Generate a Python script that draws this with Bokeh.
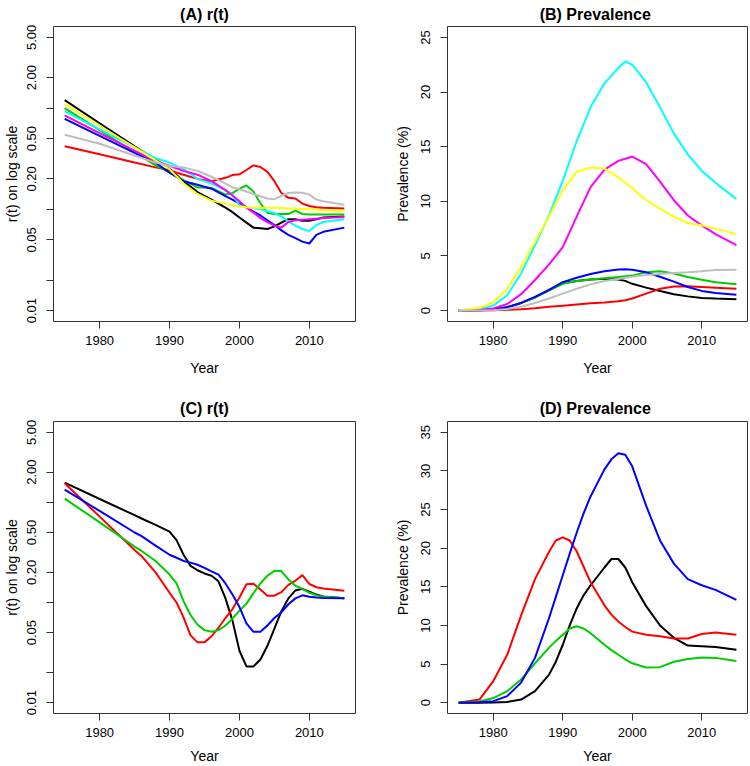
from bokeh.plotting import figure
from bokeh.layouts import column, row
from bokeh.models import Range1d, FixedTicker, CustomJSTickFormatter
from bokeh.embed import file_html
from bokeh.resources import INLINE

# ---------------- data ----------------
x_ticks = [1980, 1990, 2000, 2010]
x_tick_labels = ["1980", "1990", "2000", "2010"]
log_ticks = [0.01, 0.02, 0.05, 0.1, 0.2, 0.5, 1.0, 2.0, 5.0]
log_tick_labels = ["0.01", "", "0.05", "", "0.20", "0.50", "", "2.00", "5.00"]
prev_ticks_b = [0, 5, 10, 15, 20, 25]
prev_ticks_d = [0, 5, 10, 15, 20, 25, 30, 35]

# Panel A: r(t), eight series
years_a = [1975, 1980, 1985, 1988, 1990, 1992, 1994, 1996, 1998, 1999, 2000, 2001,
           2002, 2003, 2004, 2005, 2006, 2007, 2008, 2009, 2010, 2011, 2012, 2015]
a_black = [1.2, 0.71, 0.42, 0.31, 0.252, 0.19, 0.148, 0.125, 0.104, 0.094, 0.083, 0.074,
           0.066, 0.065, 0.064, 0.068, 0.074, 0.080, 0.080, 0.077, 0.077, 0.080, 0.083, 0.085]
a_red = [0.42, 0.35, 0.29, 0.26, 0.243, 0.22, 0.2, 0.19, 0.205, 0.218, 0.222, 0.245,
         0.272, 0.262, 0.235, 0.19, 0.145, 0.13, 0.128, 0.114, 0.108, 0.105, 0.104, 0.102]
a_green = [1.0, 0.606, 0.367, 0.272, 0.232, 0.195, 0.165, 0.163, 0.14, 0.145, 0.16, 0.172,
           0.15, 0.115, 0.092, 0.09, 0.09, 0.09, 0.097, 0.09, 0.089, 0.089, 0.089, 0.089]
a_blue = [0.785, 0.533, 0.362, 0.29, 0.23, 0.19, 0.175, 0.16, 0.135, 0.125, 0.114, 0.105,
          0.095, 0.087, 0.078, 0.07, 0.062, 0.056, 0.052, 0.048, 0.046, 0.056, 0.06, 0.066]
a_cyan = [0.93, 0.617, 0.41, 0.32, 0.29, 0.25, 0.2, 0.18, 0.155, 0.14, 0.11, 0.105,
          0.103, 0.1, 0.096, 0.092, 0.085, 0.076, 0.069, 0.064, 0.061, 0.07, 0.075, 0.08]
a_magenta = [0.85, 0.568, 0.38, 0.30, 0.27, 0.24, 0.22, 0.19, 0.155, 0.137, 0.12, 0.104,
             0.093, 0.082, 0.075, 0.069, 0.066, 0.075, 0.078, 0.079, 0.08, 0.081, 0.082, 0.084]
a_yellow = [1.1, 0.67, 0.41, 0.305, 0.25, 0.18, 0.142, 0.122, 0.114, 0.11, 0.107, 0.105,
            0.104, 0.104, 0.104, 0.104, 0.103, 0.102, 0.102, 0.101, 0.1, 0.099, 0.098, 0.097]
a_gray = [0.546, 0.445, 0.341, 0.29, 0.268, 0.26, 0.24, 0.21, 0.18, 0.165, 0.158, 0.15,
          0.142, 0.135, 0.128, 0.126, 0.136, 0.145, 0.147, 0.146, 0.14, 0.125, 0.12, 0.111]

# Panel B: prevalence (%), eight series
years_b = [1975, 1978, 1980, 1982, 1984, 1986, 1988, 1990, 1992, 1994, 1996,
           1998, 1999, 2000, 2002, 2004, 2006, 2008, 2010, 2012, 2015]
b_black = [0, 0.02, 0.1, 0.3, 0.7, 1.2, 1.85, 2.5, 2.7, 2.85, 2.92,
           2.85, 2.72, 2.45, 2.1, 1.8, 1.5, 1.3, 1.15, 1.1, 1.03]
b_red = [0, 0.0, 0.03, 0.07, 0.13, 0.22, 0.34, 0.45, 0.56, 0.66, 0.74,
         0.85, 0.95, 1.1, 1.55, 2.0, 2.2, 2.22, 2.16, 2.1, 2.0]
b_green = [0, 0.02, 0.1, 0.3, 0.68, 1.2, 1.85, 2.45, 2.7, 2.85, 2.95,
           3.07, 3.15, 3.2, 3.5, 3.6, 3.4, 3.07, 2.83, 2.6, 2.4]
b_blue = [0, 0.02, 0.1, 0.3, 0.7, 1.25, 1.9, 2.6, 3.0, 3.35, 3.6,
          3.75, 3.78, 3.74, 3.5, 3.1, 2.65, 2.16, 1.8, 1.6, 1.45]
b_cyan = [0, 0.1, 0.45, 1.4, 3.4, 6.0, 8.7, 11.9, 15.5, 18.6, 20.8,
          22.2, 22.8, 22.5, 20.9, 18.6, 16.2, 14.3, 12.8, 11.7, 10.2]
b_magenta = [0, 0.05, 0.2, 0.6, 1.5, 2.8, 4.2, 5.8, 8.6, 11.3, 12.9,
             13.7, 13.9, 14.1, 13.4, 11.8, 10.1, 8.7, 7.8, 7.0, 6.0]
b_yellow = [0, 0.25, 0.75, 2.0, 4.0, 6.3, 8.6, 11.0, 12.7, 13.1, 13.0,
            12.2, 11.7, 11.2, 10.1, 9.3, 8.6, 8.0, 7.8, 7.5, 7.0]
b_gray = [0, 0.01, 0.03, 0.15, 0.35, 0.7, 1.1, 1.55, 2.0, 2.4, 2.7,
          2.9, 3.0, 3.1, 3.25, 3.35, 3.45, 3.5, 3.6, 3.72, 3.74]

# Panel C: r(t), four series
years_c = [1975, 1980, 1985, 1986, 1988, 1990, 1991, 1992, 1993, 1994, 1995, 1996,
           1997, 1998, 1999, 2000, 2001, 2002, 2003, 2004, 2005, 2006, 2007, 2008,
           2009, 2010, 2011, 2012, 2015]
c_black = [1.57, 1.08, 0.745, 0.69, 0.595, 0.51, 0.42, 0.3, 0.232, 0.21, 0.195, 0.185,
           0.163, 0.11, 0.066, 0.033, 0.023, 0.023, 0.027, 0.037, 0.055, 0.082, 0.11, 0.132,
           0.137, 0.128, 0.12, 0.115, 0.11]
c_red = [1.55, 0.72, 0.335, 0.29, 0.2, 0.125, 0.1, 0.071, 0.047, 0.04, 0.04, 0.046,
         0.056, 0.07, 0.086, 0.112, 0.152, 0.154, 0.135, 0.117, 0.117, 0.127, 0.15, 0.165,
         0.188, 0.153, 0.142, 0.138, 0.131]
c_green = [1.09, 0.63, 0.362, 0.327, 0.26, 0.19, 0.155, 0.103, 0.075, 0.06, 0.053, 0.051,
           0.053, 0.059, 0.069, 0.083, 0.097, 0.124, 0.155, 0.185, 0.207, 0.206, 0.17, 0.147,
           0.137, 0.125, 0.118, 0.114, 0.11]
c_blue = [1.34, 0.82, 0.5, 0.46, 0.37, 0.30, 0.28, 0.26, 0.25, 0.238, 0.222, 0.205,
          0.19, 0.155, 0.12, 0.09, 0.062, 0.051, 0.051, 0.059, 0.07, 0.08, 0.096, 0.11,
          0.118, 0.114, 0.112, 0.111, 0.11]

# Panel D: prevalence (%), four series
years_d = [1975, 1978, 1980, 1982, 1984, 1986, 1988, 1989, 1990, 1991, 1992, 1993,
           1994, 1996, 1997, 1998, 1999, 2000, 2002, 2004, 2006, 2008, 2010, 2012, 2015]
d_black = [0, 0, 0.02, 0.1, 0.4, 1.5, 3.6, 5.3, 7.5, 10.0, 12.2, 13.9,
           15.2, 17.5, 18.6, 18.6, 17.5, 15.6, 12.5, 10.0, 8.4, 7.4, 7.3, 7.2, 6.85]
d_red = [0, 0.4, 2.8, 6.2, 11.3, 16.0, 19.5, 21.0, 21.4, 21.0, 19.6, 17.6,
         15.6, 12.6, 11.4, 10.5, 9.8, 9.2, 8.8, 8.6, 8.3, 8.3, 8.9, 9.1, 8.8]
d_green = [0, 0.15, 0.6, 1.5, 3.0, 5.1, 7.1, 8.0, 8.8, 9.6, 9.9, 9.6,
           9.0, 7.5, 6.8, 6.2, 5.6, 5.1, 4.55, 4.6, 5.3, 5.65, 5.86, 5.8, 5.4]
d_blue = [0, 0.05, 0.2, 0.85, 2.6, 5.8, 10.9, 13.7, 16.5, 19.3, 22.0, 24.5,
          26.7, 30.2, 31.5, 32.3, 32.1, 30.6, 25.5, 21.0, 18.0, 16.0, 15.2, 14.6, 13.3]

colors = {"black": "#000000", "red": "#FF0000", "green": "#00CD00", "blue": "#0000FF",
          "cyan": "#00FFFF", "magenta": "#FF00FF", "yellow": "#FFFF00", "gray": "#BEBEBE"}

FONT = "Liberation Sans"


def make_panel(title, ylab, log, y_lo, y_hi, yticks, ylabels, w, h, bl, br, bt, bb,
               title_standoff, xlab_standoff, ylab_standoff, ylab_major_standoff):
    p = figure(width=w, height=h, output_backend="svg", toolbar_location=None,
               x_range=Range1d(1973.4, 2016.6), y_range=Range1d(y_lo, y_hi),
               y_axis_type="log" if log else "linear",
               min_border_left=bl, min_border_right=br,
               min_border_top=bt, min_border_bottom=bb)
    p.title.text = title
    p.title.align = "center"
    p.title.text_font = FONT
    p.title.text_font_size = "16px"
    p.title.text_font_style = "bold"
    p.title.text_color = "#000000"
    p.title.standoff = title_standoff
    p.xgrid.visible = False
    p.ygrid.visible = False
    p.outline_line_color = "#333333"
    p.outline_line_width = 1
    p.outline_line_alpha = 1.0
    p.background_fill_color = "white"
    p.border_fill_color = "white"
    for ax in (p.xaxis[0], p.yaxis[0]):
        ax.axis_line_color = None
        ax.major_tick_out = 7
        ax.major_tick_in = 0
        ax.minor_tick_out = 0
        ax.minor_tick_in = 0
        ax.major_tick_line_color = "#333333"
        ax.major_label_text_font = FONT
        ax.major_label_text_font_size = "13px"
        ax.major_label_text_color = "#000000"
        ax.axis_label_text_font = FONT
        ax.axis_label_text_font_style = "normal"
        ax.axis_label_text_font_size = "14px"
        ax.axis_label_text_color = "#000000"
    xa = p.xaxis[0]
    xa.ticker = FixedTicker(ticks=x_ticks)
    xa.formatter = CustomJSTickFormatter(
        args=dict(vals=x_ticks, labs=x_tick_labels),
        code="for (let i = 0; i < vals.length; i++) { if (Math.abs(tick - vals[i]) < 1e-6) return labs[i]; } return '';")
    xa.axis_label = "Year"
    xa.major_label_standoff = 7
    xa.axis_label_standoff = xlab_standoff
    ya = p.yaxis[0]
    ya.ticker = FixedTicker(ticks=yticks)
    ya.formatter = CustomJSTickFormatter(
        args=dict(vals=yticks, labs=ylabels),
        code="for (let i = 0; i < vals.length; i++) { if (Math.abs(tick - vals[i]) <= 1e-9 * Math.max(1, Math.abs(vals[i]))) return labs[i]; } return '';")
    ya.major_label_orientation = "vertical"
    ya.axis_label = ylab
    ya.major_label_standoff = ylab_major_standoff
    ya.axis_label_standoff = ylab_standoff
    return p


r_lo, r_hi = 10 ** -2.108, 10 ** 0.807

pA = make_panel("(A) r(t)", "r(t) on log scale", True, r_lo, r_hi, log_ticks, log_tick_labels,
                375, 383, 52, 20, 26, 62, 7, 12, 5, 10)
for name, ys in [("black", a_black), ("red", a_red), ("green", a_green), ("blue", a_blue),
                 ("cyan", a_cyan), ("magenta", a_magenta), ("yellow", a_yellow), ("gray", a_gray)]:
    pA.line(years_a, ys, line_color=colors[name], line_width=2)

pB = make_panel("(B)  Prevalence", "Prevalence (%)", False, -1, 26, prev_ticks_b,
                [str(v) for v in prev_ticks_b], 375, 383, 72, 3, 26, 62, 7, 12, 8, 10)
for name, ys in [("black", b_black), ("red", b_red), ("green", b_green), ("blue", b_blue),
                 ("cyan", b_cyan), ("magenta", b_magenta), ("yellow", b_yellow), ("gray", b_gray)]:
    pB.line(years_b, ys, line_color=colors[name], line_width=2)

pC = make_panel("(C) r(t)", "r(t) on log scale", True, r_lo, r_hi, log_ticks, log_tick_labels,
                375, 383, 52, 20, 38, 51, 10, 8, 5, 10)
for name, ys in [("black", c_black), ("red", c_red), ("green", c_green), ("blue", c_blue)]:
    pC.line(years_c, ys, line_color=colors[name], line_width=2)

pD = make_panel("(D)  Prevalence", "Prevalence (%)", False, -1.4, 36.4, prev_ticks_d,
                [str(v) for v in prev_ticks_d], 375, 383, 72, 3, 38, 51, 10, 8, 8, 10)
for name, ys in [("black", d_black), ("red", d_red), ("green", d_green), ("blue", d_blue)]:
    pD.line(years_d, ys, line_color=colors[name], line_width=2)

layout = column(row(pA, pB), row(pC, pD))

with open("out.html", "w") as f:
    f.write(file_html(layout, INLINE))
